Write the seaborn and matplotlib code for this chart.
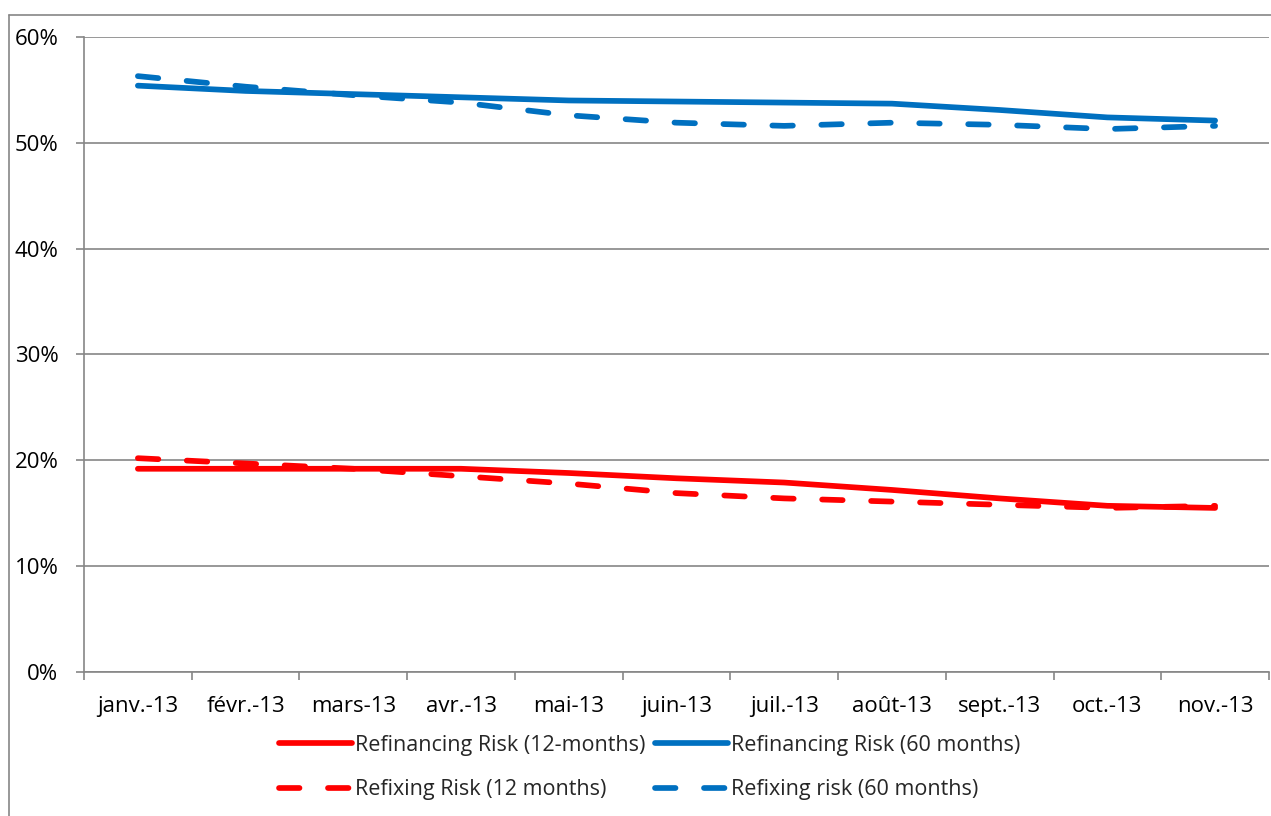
import numpy as np
import pandas as pd
import matplotlib
matplotlib.use("Agg")
import matplotlib.pyplot as plt
from matplotlib.lines import Line2D
from matplotlib.ticker import FixedLocator, PercentFormatter
import seaborn as sns

# data
months = ["janv.-13", "févr.-13", "mars-13", "avr.-13", "mai-13", "juin-13",
          "juil.-13", "août-13", "sept.-13", "oct.-13", "nov.-13"]
refinancing_12 = [0.192, 0.192, 0.192, 0.192, 0.188, 0.183, 0.179, 0.172, 0.164, 0.157, 0.155]
refinancing_60 = [0.554, 0.549, 0.546, 0.543, 0.540, 0.539, 0.538, 0.537, 0.531, 0.524, 0.521]
refixing_12 = [0.202, 0.197, 0.192, 0.185, 0.178, 0.169, 0.164, 0.161, 0.158, 0.155, 0.157]
refixing_60 = [0.563, 0.553, 0.545, 0.538, 0.526, 0.519, 0.516, 0.519, 0.517, 0.513, 0.516]

labels = ["Refinancing Risk (12-months)", "Refinancing Risk (60 months)",
          "Refixing Risk (12 months)", "Refixing risk (60 months)"]

RED = "#FF0000"
BLUE = "#0070C0"
GRAY = "#868686"
LW = 4.1
DASH = (0, (3.6, 5.0))

sns.set_theme(style="white")
plt.rcParams["font.family"] = ["Open Sans", "DejaVu Sans"]

fig = plt.figure(figsize=(12.71, 8.16), dpi=100)
ax = fig.add_axes([0.0661, 0.1765, 0.9323, 0.7782])

series = [
    (labels[0], refinancing_12, RED, "-"),
    (labels[2], refixing_12, RED, DASH),
    (labels[1], refinancing_60, BLUE, "-"),
    (labels[3], refixing_60, BLUE, DASH),
]

handles = []
for lab, vals, col, ls in series:
    df = pd.DataFrame({"month": months, "value": vals})
    sns.lineplot(data=df, x="month", y="value", color=col, lw=LW, ax=ax, sort=False)
    line = ax.lines[-1]
    line.set_linestyle(ls)
    line.set_dash_capstyle("round")
    line.set_solid_capstyle("round")
    handles.append(Line2D([], [], color=col, lw=LW, linestyle=ls,
                          dash_capstyle="round", solid_capstyle="round"))

# axes styling
ax.set_xlim(-0.5, 10.5)
ax.set_ylim(0, 0.6)
ax.set_yticks(np.arange(0, 0.61, 0.1))
ax.yaxis.set_major_formatter(PercentFormatter(1.0, decimals=0))
ax.set_xticks(range(len(months)))
ax.set_xticklabels(months)
ax.xaxis.set_minor_locator(FixedLocator(np.arange(-0.5, 11, 1)))
ax.set_xlabel("")
ax.set_ylabel("")

ax.yaxis.grid(True, color=GRAY, lw=1.2)
ax.set_axisbelow(True)
for side in ["top", "right"]:
    ax.spines[side].set_visible(False)
for side in ["left", "bottom"]:
    ax.spines[side].set_color(GRAY)
    ax.spines[side].set_linewidth(1.2)

ax.tick_params(axis="y", left=True, length=5.5, width=1.2, color=GRAY,
               pad=13, labelsize=16, labelcolor="black")
ax.tick_params(axis="x", which="major", bottom=True, length=0, pad=17,
               labelsize=16, labelcolor="black")
ax.tick_params(axis="x", which="minor", bottom=True, length=6, width=1.2, color=GRAY)

# outer chart border (left and top edges visible)
x0, y0 = 9 / 1271, 1 - 15 / 816
fig.add_artist(Line2D([x0, x0], [0, y0], transform=fig.transFigure, color=GRAY, lw=1.2))
fig.add_artist(Line2D([x0, 1], [y0, y0], transform=fig.transFigure, color=GRAY, lw=1.2))

fig.legend(handles, [s[0] for s in series], ncol=2, loc="center",
           bbox_to_anchor=(0.511, 0.0595), frameon=False, fontsize=15.5,
           handlelength=3.4, handletextpad=0.12, columnspacing=0.45,
           labelspacing=1.1)

plt.savefig("out.png", dpi=100)
